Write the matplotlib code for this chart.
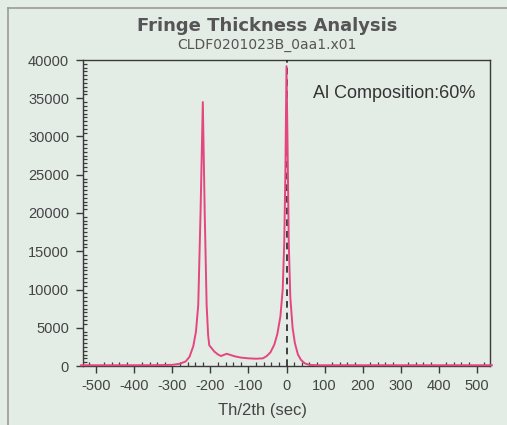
import matplotlib
matplotlib.use("Agg")
import matplotlib.pyplot as plt
from matplotlib.lines import Line2D
from matplotlib.ticker import MultipleLocator

# ---------------------------------------------------------
# data
# ---------------------------------------------------------
theta = [-540, -450, -350, -300, -280, -265, -255, -245, -238, -232, -226,
         -220, -215, -210, -206, -203, -198, -190, -180, -172, -165, -157,
         -148, -135, -120, -100, -80, -62, -52, -42, -32, -24, -16, -10,
         -6, -3, 0, 3, 6, 10, 16, 22, 30, 38, 48, 60, 80, 150, 300, 540]
counts = [100, 100, 110, 150, 300, 600, 1200, 2600, 4500, 8000, 20000,
          34500, 20000, 8000, 4000, 2700, 2400, 1900, 1500, 1300, 1450, 1600,
          1450, 1250, 1100, 1000, 950, 1000, 1300, 1800, 2800, 4200, 6500, 10000,
          16000, 25000, 39200, 28000, 16000, 9000, 5000, 3000, 1500, 800, 350, 150, 100, 100, 100, 100]

xticks = [-500, -400, -300, -200, -100, 0, 100, 200, 300, 400, 500]
yticks = [0, 5000, 10000, 15000, 20000, 25000, 30000, 35000, 40000]

title = "Fringe Thickness Analysis"
subtitle = "CLDF0201023B_0aa1.x01"
note = "Al Composition:60%"

plt.rcParams["axes.unicode_minus"] = False

bg = "#e4ece6"
line_color = "#e4467f"
frame_color = "#3a3a3a"
text_color = "#444444"
label_font = ["Liberation Sans", "DejaVu Sans"]

fig = plt.figure(figsize=(5.07, 4.25), dpi=100, facecolor=bg)
ax = fig.add_axes([83 / 507, 1 - 366 / 425, 407 / 507, 306 / 425])
ax.set_facecolor(bg)

# outer panel border
fig.add_artist(Line2D([8 / 507, 8 / 507], [0, 1 - 8 / 425],
                      transform=fig.transFigure, color="#9a9a9a", lw=1.2))
fig.add_artist(Line2D([8 / 507, 1], [1 - 8 / 425, 1 - 8 / 425],
                      transform=fig.transFigure, color="#9a9a9a", lw=1.2))

ax.plot(theta, counts, color=line_color, lw=1.4, zorder=5, clip_on=False)
ax.axvline(0, color="#222222", lw=1.2, ls=(0, (4, 3)), zorder=4)

ax.set_xlim(-535, 535)
ax.set_ylim(0, 40000)
ax.set_xticks(xticks)
ax.set_yticks(yticks)
ax.xaxis.set_minor_locator(MultipleLocator(20))
ax.yaxis.set_minor_locator(MultipleLocator(500))
ax.tick_params(axis="both", which="major", direction="out", length=5,
               width=1.0, color=frame_color, labelcolor=text_color, labelsize=10.5)
ax.tick_params(axis="both", which="minor", direction="in", length=3,
               width=0.9, color=frame_color)
for lab in ax.get_xticklabels() + ax.get_yticklabels():
    lab.set_family(label_font)
ax.tick_params(axis="x", pad=4)
ax.tick_params(axis="y", pad=5)

for s in ax.spines.values():
    s.set_color(frame_color)
    s.set_linewidth(1.0)

ax.set_xlabel("Th/2th (sec)", fontsize=12, color=text_color, family=label_font)
ax.xaxis.set_label_coords(0.44, -0.12)

fig.text(267 / 507, 1 - 26 / 425, title, ha="center", va="center",
         fontsize=13, fontweight="bold", color="#555555")
fig.text(267 / 507, 1 - 45 / 425, subtitle, ha="center", va="center",
         fontsize=10, color="#555555")

ax.text(0.965, 0.89, note, transform=ax.transAxes, ha="right", va="center",
        fontsize=13, color="#333333", family=label_font)

fig.savefig("out.png", dpi=100, facecolor=bg)
